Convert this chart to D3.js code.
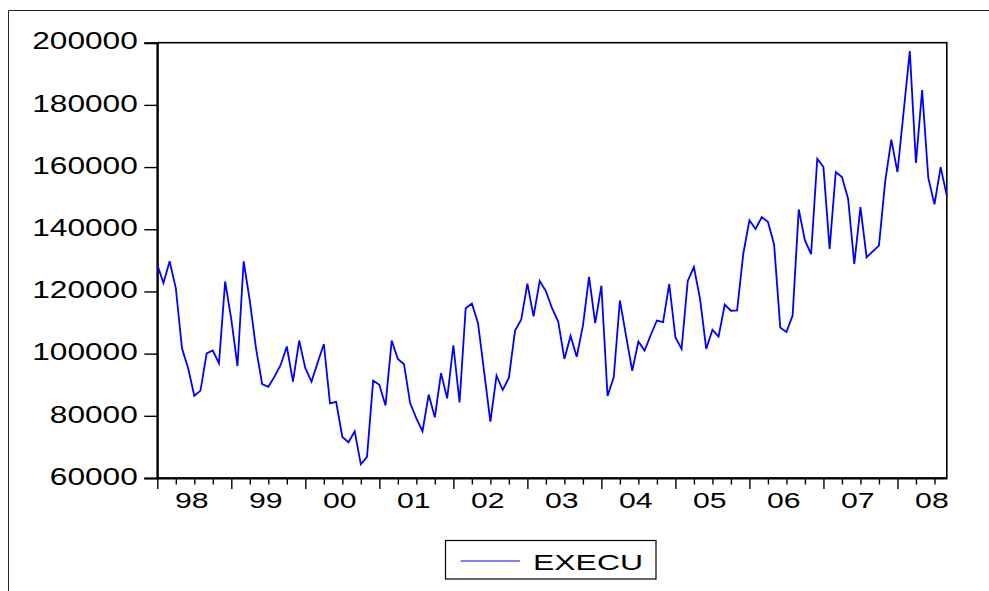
<!DOCTYPE html>
<html>
<head>
<meta charset="utf-8">
<script src="https://cdn.jsdelivr.net/npm/d3@7"></script>
<style>
  html, body { margin: 0; padding: 0; background: #fff; }
  svg { display: block; }
  text { font-family: "Liberation Sans", Arial, sans-serif; fill: #000; }
</style>
</head>
<body>
<svg id="chart" width="989" height="591"></svg>
<script>
// ---- data (monthly, Jan 1998 .. Sep 2008) ----
const seriesName = "EXECU";
const startYear = 1998;
const execu = [
  128600, 122700, 129700, 121100, 101700, 95300, 86450, 88100, 100100, 101000, 96900, 123200,
  111000, 96000, 129700, 117000, 101800, 90200, 89350, 92600, 96350, 102300, 91000, 104200,
  95300, 91000, 97100, 103100, 84000, 84500, 73200, 71500, 75000, 64400, 66800, 91300,
  90000, 83350, 104200, 98300, 96600, 84000, 79150, 75050, 86800, 79500, 93700, 85600,
  102700, 84300, 114600, 116100, 109800, 94000, 78100, 92900, 88300, 92200, 107400, 110900,
  122500, 112000, 123350, 120100, 114600, 110300, 98300, 105700, 99000, 108900, 124650, 109800,
  121850, 86350, 92400, 117100, 105700, 94500, 103900, 101000, 106000, 110650, 110100, 122400,
  105300, 101500, 123400, 127850, 117550, 101500, 107650, 105500, 115800, 113800, 113900, 132050,
  142900, 140100, 143900, 142400, 135100, 108400, 106900, 112250, 146350, 136400, 132000, 162700,
  160000, 133700, 158400, 156800, 149800, 128850, 147100, 131000, 132900, 134750, 155150, 168850,
  158400, 177750, 197300, 161300, 184750, 156500, 148000, 160000, 150850
];
const yTicks = [60000, 80000, 100000, 120000, 140000, 160000, 180000, 200000];
const yearLabels = ["98","99","00","01","02","03","04","05","06","07","08"];

// ---- layout ----
const svg = d3.select("#chart");
const L = 157.3, R = 946.8, T = 42.7, B = 478;

const x = d3.scaleLinear().domain([0, execu.length - 1]).range([L, R]);
const y = d3.scaleLinear().domain([60000, 200000]).range([B, T]);

// outer frame
svg.append("line").attr("x1", 8.5).attr("x2", 989).attr("y1", 10.5).attr("y2", 10.5)
  .attr("stroke", "#222").attr("stroke-width", 1);
svg.append("line").attr("x1", 8.5).attr("x2", 8.5).attr("y1", 10.5).attr("y2", 591)
  .attr("stroke", "#222").attr("stroke-width", 1);

// plot frame
svg.append("rect").attr("x", L).attr("y", T).attr("width", R - L).attr("height", B - T)
  .attr("fill", "none").attr("stroke", "#000").attr("stroke-width", 1.6);

// y axis
const yAxis = svg.append("g").attr("transform", `translate(${L},0)`)
  .call(d3.axisLeft(y).tickValues(yTicks).tickSize(13).tickPadding(6.5).tickFormat(d3.format("d")));
yAxis.select(".domain").attr("stroke-width", 2);
yAxis.selectAll(".tick line").attr("stroke-width", 1.4);
yAxis.selectAll(".tick text")
  .attr("font-size", 23.7).attr("font-family", "Liberation Sans, Arial, sans-serif")
  .attr("dy", 0).attr("y", 6.2)
  .attr("textLength", d => 17.6 * String(d).length)
  .attr("lengthAdjust", "spacingAndGlyphs");

// x axis: quarterly ticks, longer at year starts
const quarterTicks = d3.range(0, execu.length, 3);
const xAxis = svg.append("g").attr("transform", `translate(0,${B})`)
  .call(d3.axisBottom(x).tickValues(quarterTicks).tickSizeInner(6.5).tickSizeOuter(0).tickFormat(""));
xAxis.select(".domain").attr("stroke-width", 2);
xAxis.selectAll(".tick line").attr("stroke-width", 1.4)
  .attr("y2", d => d % 12 === 0 ? 11 : 6.5);

// year labels centred within each year
const labelPos = yearLabels.map((s, i) => i * 12 + 5.5);
const xLab = svg.append("g").attr("transform", `translate(0,${B})`)
  .call(d3.axisBottom(x).tickValues(labelPos).tickSize(0).tickFormat((d, i) => yearLabels[i]));
xLab.select(".domain").remove();
xLab.selectAll(".tick text")
  .attr("font-size", 21.5).attr("font-family", "Liberation Sans, Arial, sans-serif")
  .attr("dy", 0).attr("y", 30.3)
  .attr("textLength", 33.6).attr("lengthAdjust", "spacingAndGlyphs");

// series line
svg.append("path").datum(execu)
  .attr("fill", "none").attr("stroke", "#0000ff").attr("stroke-width", 1.8)
  .attr("stroke-linejoin", "miter")
  .attr("d", d3.line().x((d, i) => x(i)).y(d => y(d)));

// legend
const lg = svg.append("g");
lg.append("rect").attr("x", 445.5).attr("y", 540.5).attr("width", 210.5).attr("height", 38.5)
  .attr("fill", "#fff").attr("stroke", "#000").attr("stroke-width", 1.2);
lg.append("line").attr("x1", 460.7).attr("x2", 520).attr("y1", 561).attr("y2", 561)
  .attr("stroke", "#0000ff").attr("stroke-width", 1.2);
lg.append("text").attr("x", 533).attr("y", 569.5).attr("font-size", 22.6)
  .attr("textLength", 110).attr("lengthAdjust", "spacingAndGlyphs")
  .text(seriesName);
</script>
</body>
</html>
